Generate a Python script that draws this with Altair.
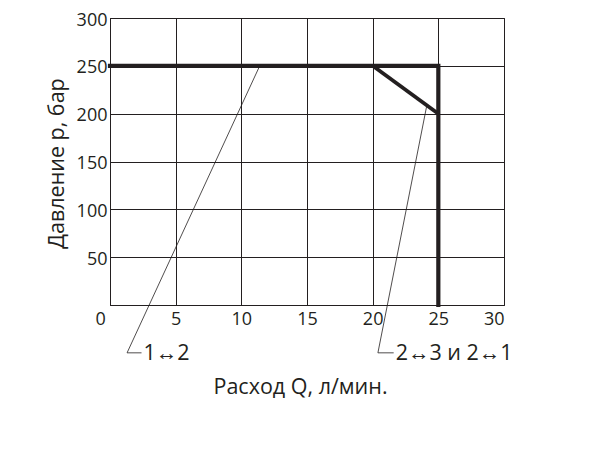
import altair as alt
import pandas as pd

INK = "#231f20"
FONT = "Open Sans"

# axis ticks
x_ticks = [0, 5, 10, 15, 20, 25, 30]
y_ticks = [50, 100, 150, 200, 250, 300]

# main characteristic (thick): Q [l/min], p [bar]
curve_q = [0, 25, 25]
curve_p = [250, 250, 0]
diag_q = [20, 25]
diag_p = [250, 200]

# leader lines for labels
lead1_q = [11.4, 1.3, 2.4]
lead1_p = [250, -50, -50]
lead2_q = [24.1, 20.4, 21.6]
lead2_p = [207, -50, -50]

labels = ["1↔2", "2↔3 и 2↔1"]
label_q = [2.55, 21.75]
label_p = [-50, -50]


def frame(q, p):
    return pd.DataFrame({"q": q, "p": p, "i": list(range(len(q)))})


xaxis = alt.Axis(
    values=x_ticks, grid=True, gridColor=INK, gridWidth=1, gridOpacity=1,
    ticks=False, domainColor=INK, domainWidth=1,
    labelFont=FONT, labelFontSize=18, labelColor=INK, labelPadding=5,
    labelAngle=0,
    labelOffset={"condition": {"test": "datum.value == 0", "value": -15}, "value": 0},
    title="Расход Q, л/мин.", titleFont=FONT, titleFontSize=21.5,
    titleFontWeight="normal", titleColor=INK,
    titleX=190, titleY=88, titleAlign="center", titleBaseline="alphabetic",
)
yaxis = alt.Axis(
    values=y_ticks, grid=True, gridColor=INK, gridWidth=1, gridOpacity=1,
    ticks=False, domainColor=INK, domainWidth=1,
    labelFont=FONT, labelFontSize=18, labelColor=INK, labelPadding=3,
    labelOffset=2,
    title="Давление р, бар", titleFont=FONT, titleFontSize=21.5,
    titleFontWeight="normal", titleColor=INK,
    titleX=-47, titleY=145, titleAngle=270, titleAlign="center",
    titleBaseline="alphabetic",
)

X = alt.X("q:Q", scale=alt.Scale(domain=[0, 30], nice=False, zero=False), axis=xaxis)
Y = alt.Y("p:Q", scale=alt.Scale(domain=[0, 300], nice=False, zero=False), axis=yaxis)

curve = alt.Chart(frame(curve_q, curve_p)).mark_line(
    color=INK, strokeWidth=4.2, strokeJoin="miter", strokeCap="square"
).encode(x=X, y=Y, order="i:Q")

diag = alt.Chart(frame(diag_q, diag_p)).mark_line(
    color=INK, strokeWidth=3.8
).encode(x=X, y=Y, order="i:Q")

lead1 = alt.Chart(frame(lead1_q, lead1_p)).mark_line(
    color=INK, strokeWidth=0.8
).encode(x=X, y=Y, order="i:Q")

lead2 = alt.Chart(frame(lead2_q, lead2_p)).mark_line(
    color=INK, strokeWidth=0.8
).encode(x=X, y=Y, order="i:Q")

text = alt.Chart(pd.DataFrame({"q": label_q, "p": label_p, "t": labels})).mark_text(
    font="Open Sans, Liberation Sans", fontSize=21.5, color=INK, align="left",
    baseline="alphabetic", dy=7.5
).encode(x=X, y=Y, text="t:N")

chart = (
    alt.layer(curve, diag, lead1, lead2, text)
    .properties(
        width=394, height=287,
        autosize=alt.AutoSizeParams(type="none"),
        padding={"left": 102, "top": 10, "right": 70, "bottom": 130},
        background="white",
    )
    .configure_view(stroke=INK, strokeWidth=1)
)

chart.save("out.html", embed_options={"renderer": "svg", "actions": False})
